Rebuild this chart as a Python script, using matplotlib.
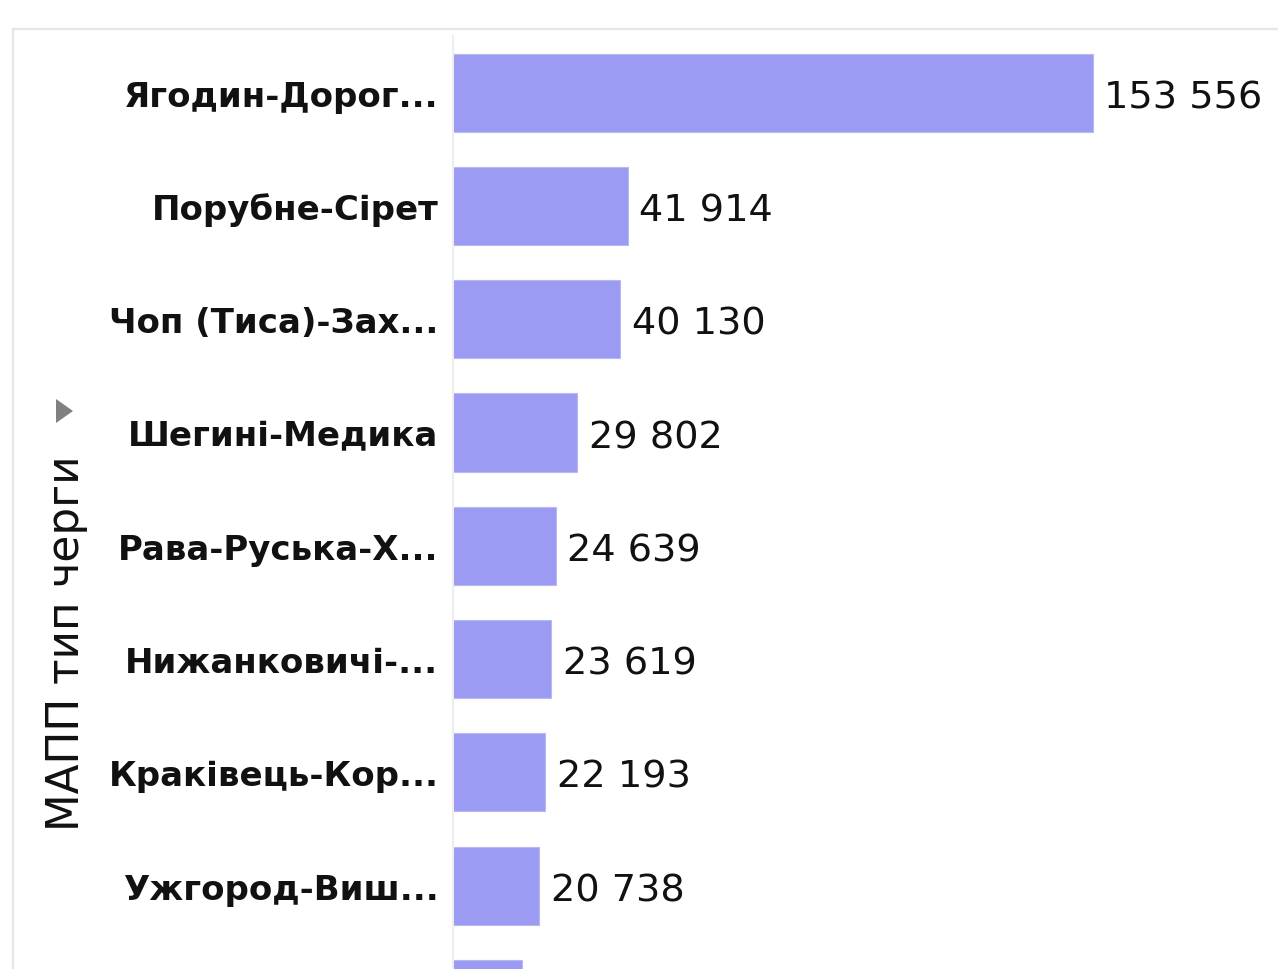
import matplotlib
matplotlib.use("Agg")
import matplotlib.pyplot as plt
from matplotlib.patches import Polygon
from matplotlib.lines import Line2D

# дані
categories = [
	"Ягодин-Дорог...",
	"Порубне-Сірет",
	"Чоп (Тиса)-Зах...",
	"Шегині-Медика",
	"Рава-Руська-Х...",
	"Нижанковичі-...",
	"Краківець-Кор...",
	"Ужгород-Виш...",
	"Смільниця-Кр...",
]
values = [153556, 41914, 40130, 29802, 24639, 23619, 22193, 20738, 16600]
axis_title = "МАПП тип черги"

W, H = 1278, 970
fig = plt.figure(figsize=(W / 100, H / 100), dpi=100)
fig.patch.set_facecolor("white")

# рамка картки
fig.add_artist(Line2D([13 / W, 1.0], [1 - 30 / H, 1 - 30 / H], transform=fig.transFigure,
	color="#e6e6e6", linewidth=1.6))
fig.add_artist(Line2D([13 / W, 13 / W], [0, 1 - 30 / H], transform=fig.transFigure,
	color="#e6e6e6", linewidth=1.6))

ax = fig.add_axes([453 / W, 0, 1 - 453 / W, 1 - 37 / H])
ax.barh(range(len(values)), values, height=0.69, color="#9b9bf3",
	edgecolor="#b8b8f7", linewidth=0.8)

y_bottom = 7.736
for i, v in enumerate(values):
	if i + 0.5 > y_bottom:
		continue  # підпис нижче видимої області
	ax.text(v + 2800, i + 0.04, f"{v:,}".replace(",", " "), va="center", ha="left",
		fontsize=27.5, family="DejaVu Sans", color="#111111")

ax.set_yticks(range(len(categories)))
ax.set_yticklabels(categories, fontsize=24.5, family="DejaVu Sans", fontweight="bold", color="#111111")
ax.tick_params(axis="y", length=0, pad=10.5)
ax.set_xticks([])
ax.set_xlim(0, 198000)
ax.set_ylim(y_bottom, -0.5)
for s in ["top", "right", "bottom"]:
	ax.spines[s].set_visible(False)
ax.spines["left"].set_color("#eeeeee")
ax.spines["left"].set_linewidth(1.5)

# заголовок осі
fig.text(67 / W, 1 - 643 / H, axis_title, rotation=90, ha="center", va="center",
	fontsize=31.5, family="DejaVu Sans", color="#111111")
fig.add_artist(Polygon([[56 / W, 1 - 400 / H], [73 / W, 1 - 412 / H], [56 / W, 1 - 424 / H]],
	closed=True, transform=fig.transFigure, facecolor="#808080", edgecolor="none"))

fig.savefig("out.png", dpi=100)
